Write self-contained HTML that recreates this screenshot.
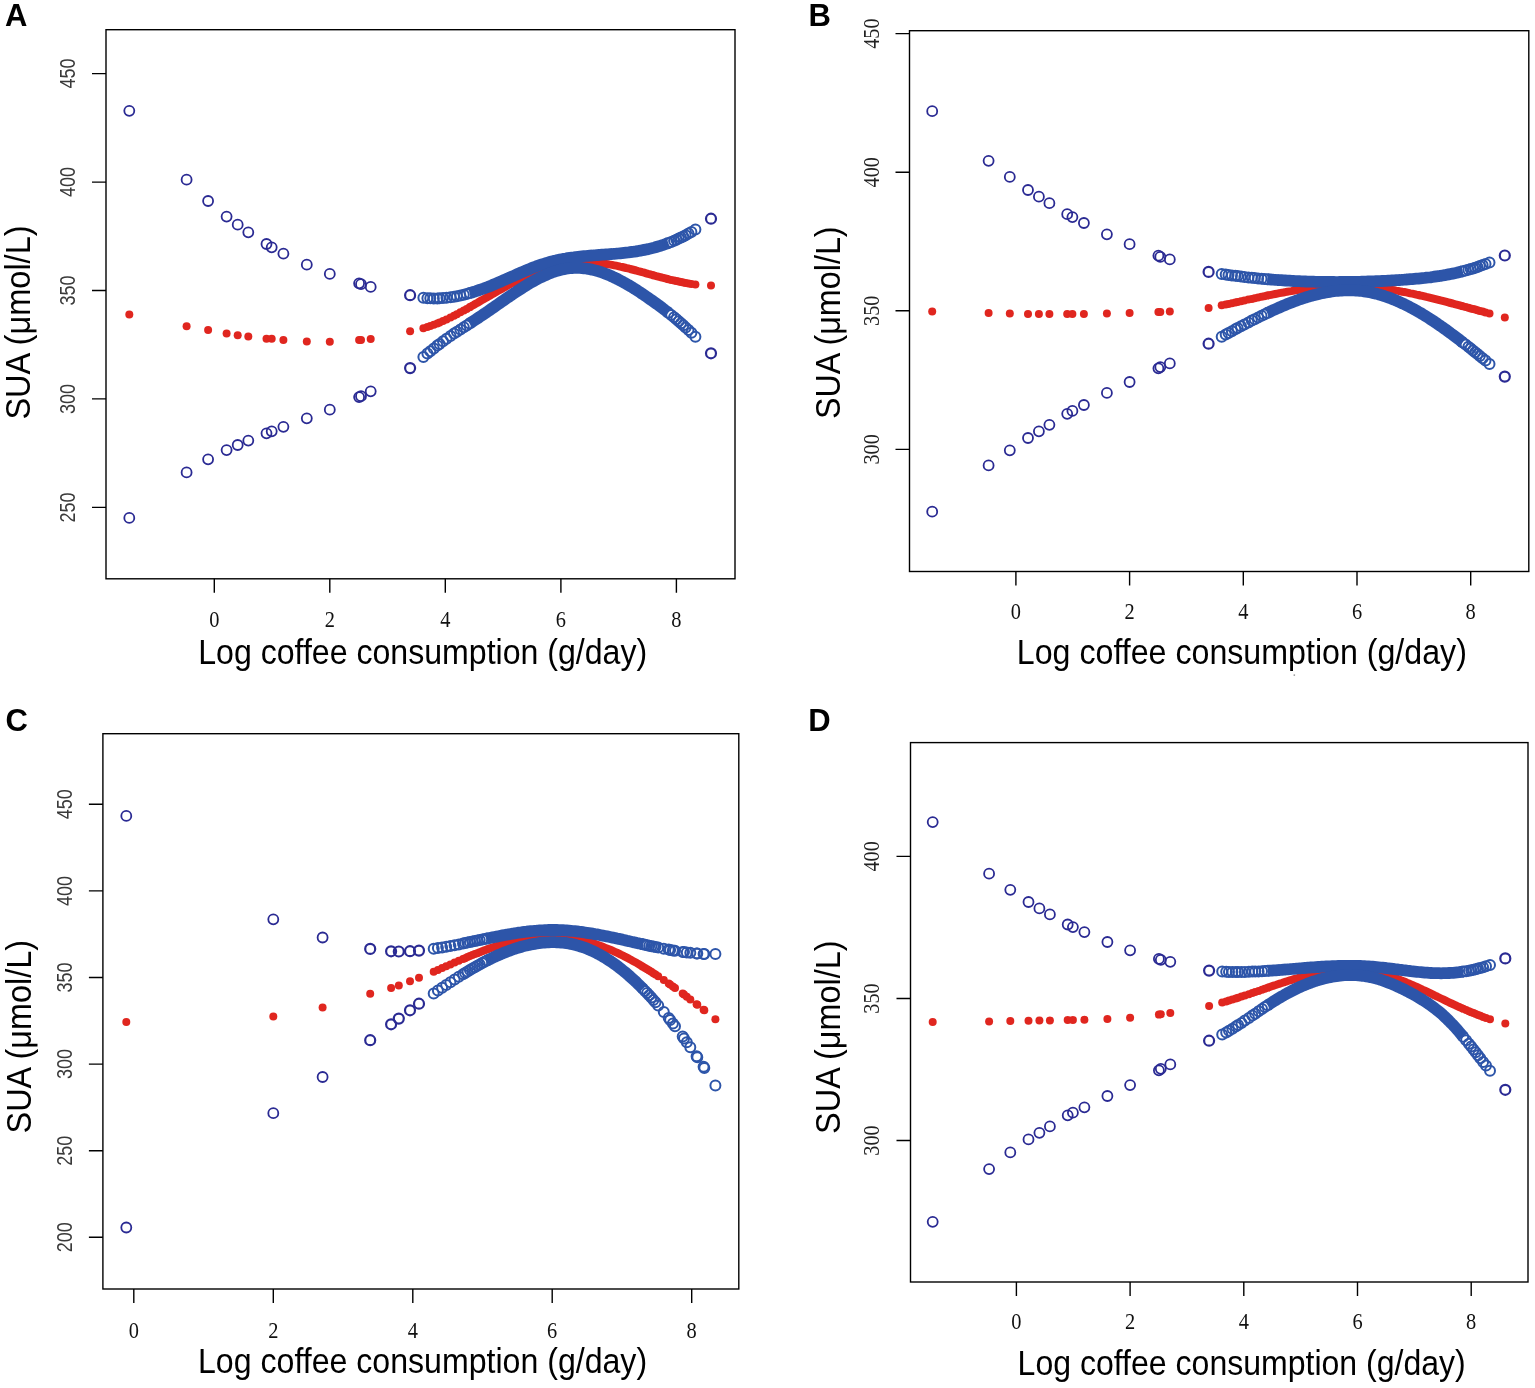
<!DOCTYPE html>
<html><head><meta charset="utf-8"><title>SUA vs log coffee consumption</title>
<style>html,body{margin:0;padding:0;background:#fff;}
svg{display:block;}
.tn{font-family:"Liberation Serif",serif;font-size:24px;fill:#111;}
.tny{font-family:"Liberation Serif",serif;font-size:23.6px;fill:#222;}
.ts{font-family:"Liberation Sans",sans-serif;font-size:22.5px;fill:#3a3a3a;}
.ti{font-family:"Liberation Sans",sans-serif;font-size:35.5px;fill:#000;}
.lt{font-family:"Liberation Sans",sans-serif;font-size:31px;font-weight:bold;fill:#000;}
</style></head>
<body><svg width="1535" height="1388" viewBox="0 0 1535 1388">
<rect width="1535" height="1388" fill="#fff"/>
<g fill="#e0261f">
<circle cx="129.3" cy="314.5" r="4.0"/>
<circle cx="186.6" cy="326.2" r="4.0"/>
<circle cx="208.1" cy="330.1" r="4.0"/>
<circle cx="226.6" cy="333.4" r="4.0"/>
<circle cx="237.7" cy="335.2" r="4.0"/>
<circle cx="248.3" cy="336.4" r="4.0"/>
<circle cx="266.5" cy="338.8" r="4.0"/>
<circle cx="271.7" cy="338.8" r="4.0"/>
<circle cx="283.4" cy="340" r="4.0"/>
<circle cx="306.8" cy="341.5" r="4.0"/>
<circle cx="329.8" cy="341.8" r="4.0"/>
<circle cx="359.1" cy="340" r="4.0"/>
<circle cx="361" cy="340" r="4.0"/>
<circle cx="370.7" cy="339.1" r="4.0"/>
<circle cx="410.1" cy="331.2" r="4.0"/>
<circle cx="711" cy="285.6" r="4.0"/>
<circle cx="423.4" cy="328.3" r="4.0"/>
<circle cx="427.4" cy="327" r="4.0"/>
<circle cx="430.3" cy="326.1" r="4.0"/>
<circle cx="433.8" cy="324.8" r="4.0"/>
<circle cx="437.3" cy="323.4" r="4.0"/>
<circle cx="439.6" cy="322.5" r="4.0"/>
<circle cx="443" cy="321" r="4.0"/>
<circle cx="446.5" cy="319.4" r="4.0"/>
<circle cx="450.5" cy="317.4" r="4.0"/>
<circle cx="454" cy="315.7" r="4.0"/>
<circle cx="456.9" cy="314.2" r="4.0"/>
<circle cx="460.4" cy="312.3" r="4.0"/>
<circle cx="463.8" cy="310.5" r="4.0"/>
<circle cx="466.7" cy="308.9" r="4.0"/>
<circle cx="469.6" cy="307.3" r="4.0"/>
<circle cx="668.3" cy="279.2" r="4.0"/>
<circle cx="671.2" cy="279.9" r="4.0"/>
<circle cx="674.1" cy="280.6" r="4.0"/>
<circle cx="676.4" cy="281.1" r="4.0"/>
<circle cx="678.7" cy="281.6" r="4.0"/>
<circle cx="681" cy="282" r="4.0"/>
<circle cx="683.3" cy="282.5" r="4.0"/>
<circle cx="685.6" cy="282.9" r="4.0"/>
<circle cx="688.5" cy="283.4" r="4.0"/>
<circle cx="691.4" cy="283.9" r="4.0"/>
<circle cx="695.4" cy="284.4" r="4.0"/>
</g>
<path d="M469.6 307.3 L471.6 306.1 L473.6 305 L475.6 303.8 L477.6 302.7 L479.6 301.5 L481.6 300.3 L483.6 299.2 L485.7 298 L487.7 296.9 L489.7 295.7 L491.7 294.5 L493.7 293.4 L495.7 292.3 L497.7 291.1 L499.7 290 L501.7 288.9 L503.7 287.8 L505.7 286.7 L507.7 285.6 L509.7 284.5 L511.7 283.5 L513.8 282.5 L515.8 281.5 L517.8 280.5 L519.8 279.5 L521.8 278.6 L523.8 277.7 L525.8 276.8 L527.8 275.9 L529.8 275.1 L531.8 274.3 L533.8 273.5 L535.8 272.7 L537.8 272 L539.8 271.3 L541.9 270.6 L543.9 269.9 L545.9 269.3 L547.9 268.7 L549.9 268.1 L551.9 267.6 L553.9 267.1 L555.9 266.6 L557.9 266.1 L559.9 265.7 L561.9 265.3 L563.9 264.9 L565.9 264.6 L567.9 264.2 L569.9 263.9 L572 263.7 L574 263.5 L576 263.3 L578 263.1 L580 262.9 L582 262.8 L584 262.8 L586 262.7 L588 262.7 L590 262.7 L592 262.8 L594 262.8 L596 263 L598 263.1 L600.1 263.3 L602.1 263.5 L604.1 263.7 L606.1 264 L608.1 264.3 L610.1 264.6 L612.1 264.9 L614.1 265.3 L616.1 265.7 L618.1 266.1 L620.1 266.6 L622.1 267 L624.1 267.5 L626.1 268 L628.2 268.4 L630.2 269 L632.2 269.5 L634.2 270 L636.2 270.5 L638.2 271.1 L640.2 271.6 L642.2 272.2 L644.2 272.7 L646.2 273.3 L648.2 273.9 L650.2 274.4 L652.2 275 L654.2 275.5 L656.3 276.1 L658.3 276.6 L660.3 277.1 L662.3 277.7 L664.3 278.2 L666.3 278.7 L668.3 279.2" fill="none" stroke="#e0261f" stroke-width="8.0" stroke-linecap="butt" stroke-linejoin="round"/>
<path d="M469.6 293.1 L471.6 292.6 L473.6 291.9 L475.6 291.3 L477.6 290.6 L479.6 289.9 L481.6 289.2 L483.6 288.5 L485.7 287.7 L487.7 287 L489.7 286.2 L491.7 285.4 L493.7 284.5 L495.7 283.7 L497.7 282.8 L499.7 282 L501.7 281.1 L503.7 280.2 L505.7 279.3 L507.7 278.4 L509.7 277.6 L511.7 276.7 L513.8 275.8 L515.8 274.9 L517.8 274 L519.8 273.1 L521.8 272.3 L523.8 271.4 L525.8 270.6 L527.8 269.7 L529.8 268.9 L531.8 268.1 L533.8 267.3 L535.8 266.6 L537.8 265.8 L539.8 265.1 L541.9 264.4 L543.9 263.8 L545.9 263.2 L547.9 262.6 L549.9 262 L551.9 261.4 L553.9 260.9 L555.9 260.5 L557.9 260 L559.9 259.6 L561.9 259.2 L563.9 258.8 L565.9 258.5 L567.9 258.1 L569.9 257.8 L572 257.5 L574 257.3 L576 257 L578 256.8 L580 256.6 L582 256.4 L584 256.2 L586 256 L588 255.8 L590 255.6 L592 255.5 L594 255.3 L596 255.2 L598 255 L600.1 254.9 L602.1 254.7 L604.1 254.6 L606.1 254.4 L608.1 254.3 L610.1 254.1 L612.1 254 L614.1 253.8 L616.1 253.7 L618.1 253.5 L620.1 253.3 L622.1 253.1 L624.1 252.9 L626.1 252.7 L628.2 252.5 L630.2 252.2 L632.2 251.9 L634.2 251.7 L636.2 251.4 L638.2 251 L640.2 250.7 L642.2 250.3 L644.2 249.9 L646.2 249.5 L648.2 249.1 L650.2 248.6 L652.2 248.1 L654.2 247.6 L656.3 247 L658.3 246.4 L660.3 245.8 L662.3 245.2 L664.3 244.5 L666.3 243.8 L668.3 243" fill="none" stroke="#2d55a9" stroke-width="11.8" stroke-linecap="butt" stroke-linejoin="round"/>
<path d="M469.6 323.5 L471.6 322.2 L473.6 320.9 L475.6 319.6 L477.6 318.3 L479.6 316.9 L481.6 315.6 L483.6 314.3 L485.7 312.9 L487.7 311.5 L489.7 310.1 L491.7 308.7 L493.7 307.3 L495.7 305.9 L497.7 304.5 L499.7 303.1 L501.7 301.7 L503.7 300.3 L505.7 298.9 L507.7 297.5 L509.7 296.2 L511.7 294.8 L513.8 293.4 L515.8 292.1 L517.8 290.8 L519.8 289.5 L521.8 288.2 L523.8 286.9 L525.8 285.7 L527.8 284.4 L529.8 283.2 L531.8 282.1 L533.8 281 L535.8 279.9 L537.8 278.8 L539.8 277.8 L541.9 276.8 L543.9 275.9 L545.9 275 L547.9 274.1 L549.9 273.3 L551.9 272.5 L553.9 271.8 L555.9 271.2 L557.9 270.6 L559.9 270 L561.9 269.5 L563.9 269.1 L565.9 268.7 L567.9 268.4 L569.9 268.2 L572 268 L574 267.9 L576 267.8 L578 267.8 L580 267.9 L582 268.1 L584 268.3 L586 268.5 L588 268.8 L590 269.2 L592 269.6 L594 270.1 L596 270.6 L598 271.2 L600.1 271.8 L602.1 272.5 L604.1 273.2 L606.1 274 L608.1 274.8 L610.1 275.6 L612.1 276.5 L614.1 277.5 L616.1 278.4 L618.1 279.4 L620.1 280.5 L622.1 281.5 L624.1 282.6 L626.1 283.8 L628.2 284.9 L630.2 286.1 L632.2 287.3 L634.2 288.6 L636.2 289.8 L638.2 291.1 L640.2 292.4 L642.2 293.8 L644.2 295.1 L646.2 296.5 L648.2 297.9 L650.2 299.3 L652.2 300.7 L654.2 302.1 L656.3 303.6 L658.3 305 L660.3 306.5 L662.3 308 L664.3 309.6 L666.3 311.1 L668.3 312.7" fill="none" stroke="#2d55a9" stroke-width="11.8" stroke-linecap="butt" stroke-linejoin="round"/>
<g fill="none" stroke="#2a2a93" stroke-width="1.8">
<circle cx="129.3" cy="110.8" r="5.0"/>
<circle cx="129.3" cy="517.9" r="5.0"/>
<circle cx="186.6" cy="179.7" r="5.0"/>
<circle cx="186.6" cy="472.4" r="5.0"/>
<circle cx="208.1" cy="201" r="5.0"/>
<circle cx="208.1" cy="459.3" r="5.0"/>
<circle cx="226.6" cy="216.6" r="5.0"/>
<circle cx="226.6" cy="450.1" r="5.0"/>
<circle cx="237.7" cy="224.7" r="5.0"/>
<circle cx="237.7" cy="445" r="5.0"/>
<circle cx="248.3" cy="232.3" r="5.0"/>
<circle cx="248.3" cy="440.6" r="5.0"/>
<circle cx="266.5" cy="244" r="5.0"/>
<circle cx="266.5" cy="433.3" r="5.0"/>
<circle cx="271.7" cy="247.3" r="5.0"/>
<circle cx="271.7" cy="431.3" r="5.0"/>
<circle cx="283.4" cy="253.6" r="5.0"/>
<circle cx="283.4" cy="426.8" r="5.0"/>
<circle cx="306.8" cy="264.7" r="5.0"/>
<circle cx="306.8" cy="418.3" r="5.0"/>
<circle cx="329.8" cy="273.9" r="5.0"/>
<circle cx="329.8" cy="409.7" r="5.0"/>
<circle cx="359.1" cy="283.3" r="5.0"/>
<circle cx="359.1" cy="397.1" r="5.0"/>
<circle cx="361" cy="284.2" r="5.0"/>
<circle cx="361" cy="396.2" r="5.0"/>
<circle cx="370.7" cy="286.9" r="5.0"/>
<circle cx="370.7" cy="391.3" r="5.0"/>
</g>
<g fill="none" stroke="#2a2a93" stroke-width="2.2">
<circle cx="410.1" cy="295.2" r="5.0"/>
<circle cx="410.1" cy="368.1" r="5.0"/>
<circle cx="711" cy="218.7" r="5.0"/>
<circle cx="711" cy="353.3" r="5.0"/>
</g>
<g fill="none" stroke="#2d55a9" stroke-width="2.0">
<circle cx="423.4" cy="297.8" r="5.0"/>
<circle cx="423.4" cy="357" r="5.0"/>
<circle cx="427.4" cy="298.2" r="5.0"/>
<circle cx="427.4" cy="353.6" r="5.0"/>
<circle cx="430.3" cy="298.3" r="5.0"/>
<circle cx="430.3" cy="351.2" r="5.0"/>
<circle cx="433.8" cy="298.4" r="5.0"/>
<circle cx="433.8" cy="348.4" r="5.0"/>
<circle cx="437.3" cy="298.4" r="5.0"/>
<circle cx="437.3" cy="345.6" r="5.0"/>
<circle cx="439.6" cy="298.3" r="5.0"/>
<circle cx="439.6" cy="343.9" r="5.0"/>
<circle cx="443" cy="298.1" r="5.0"/>
<circle cx="443" cy="341.3" r="5.0"/>
<circle cx="446.5" cy="297.8" r="5.0"/>
<circle cx="446.5" cy="338.7" r="5.0"/>
<circle cx="450.5" cy="297.3" r="5.0"/>
<circle cx="450.5" cy="336" r="5.0"/>
<circle cx="454" cy="296.7" r="5.0"/>
<circle cx="454" cy="333.6" r="5.0"/>
<circle cx="456.9" cy="296.2" r="5.0"/>
<circle cx="456.9" cy="331.7" r="5.0"/>
<circle cx="460.4" cy="295.5" r="5.0"/>
<circle cx="460.4" cy="329.5" r="5.0"/>
<circle cx="463.8" cy="294.7" r="5.0"/>
<circle cx="463.8" cy="327.3" r="5.0"/>
<circle cx="466.7" cy="293.9" r="5.0"/>
<circle cx="466.7" cy="325.4" r="5.0"/>
<circle cx="469.6" cy="293.1" r="5.0"/>
<circle cx="469.6" cy="323.5" r="5.0"/>
<circle cx="668.3" cy="243" r="5.0"/>
<circle cx="668.3" cy="312.7" r="5.0"/>
<circle cx="671.2" cy="241.9" r="5.0"/>
<circle cx="671.2" cy="315" r="5.0"/>
<circle cx="674.1" cy="240.7" r="5.0"/>
<circle cx="674.1" cy="317.3" r="5.0"/>
<circle cx="676.4" cy="239.7" r="5.0"/>
<circle cx="676.4" cy="319.3" r="5.0"/>
<circle cx="678.7" cy="238.6" r="5.0"/>
<circle cx="678.7" cy="321.2" r="5.0"/>
<circle cx="681" cy="237.5" r="5.0"/>
<circle cx="681" cy="323.2" r="5.0"/>
<circle cx="683.3" cy="236.4" r="5.0"/>
<circle cx="683.3" cy="325.3" r="5.0"/>
<circle cx="685.6" cy="235.2" r="5.0"/>
<circle cx="685.6" cy="327.4" r="5.0"/>
<circle cx="688.5" cy="233.6" r="5.0"/>
<circle cx="688.5" cy="330" r="5.0"/>
<circle cx="691.4" cy="232" r="5.0"/>
<circle cx="691.4" cy="332.7" r="5.0"/>
<circle cx="695.4" cy="229.6" r="5.0"/>
<circle cx="695.4" cy="336.7" r="5.0"/>
</g>
<rect x="106" y="29.7" width="629" height="549.1" fill="none" stroke="#000" stroke-width="1.4"/>
<path d="M92 73.6H106 M92 182.1H106 M92 290.5H106 M92 398.9H106 M92 507.4H106 M214.3 578.8V592.8 M329.8 578.8V592.8 M445.3 578.8V592.8 M560.9 578.8V592.8 M676.4 578.8V592.8" stroke="#000" stroke-width="1.4" fill="none"/>
<text class="ts" transform="translate(75.3 73.6) rotate(-90) scale(0.8 1)" text-anchor="middle">450</text>
<text class="ts" transform="translate(75.3 182.1) rotate(-90) scale(0.8 1)" text-anchor="middle">400</text>
<text class="ts" transform="translate(75.3 290.5) rotate(-90) scale(0.8 1)" text-anchor="middle">350</text>
<text class="ts" transform="translate(75.3 398.9) rotate(-90) scale(0.8 1)" text-anchor="middle">300</text>
<text class="ts" transform="translate(75.3 507.4) rotate(-90) scale(0.8 1)" text-anchor="middle">250</text>
<text class="tn" transform="translate(214.3 627) scale(0.85 1)" text-anchor="middle">0</text>
<text class="tn" transform="translate(329.8 627) scale(0.85 1)" text-anchor="middle">2</text>
<text class="tn" transform="translate(445.3 627) scale(0.85 1)" text-anchor="middle">4</text>
<text class="tn" transform="translate(560.9 627) scale(0.85 1)" text-anchor="middle">6</text>
<text class="tn" transform="translate(676.4 627) scale(0.85 1)" text-anchor="middle">8</text>
<text class="ti" x="198.2" y="663.9" textLength="449" lengthAdjust="spacingAndGlyphs">Log coffee consumption (g/day)</text>
<text class="ti" transform="translate(30.1 419.6) rotate(-90)" textLength="194.2" lengthAdjust="spacingAndGlyphs">SUA (μmol/L)</text>
<text class="lt" x="5" y="25.8">A</text>
<g fill="#e0261f">
<circle cx="932.2" cy="311.4" r="4.0"/>
<circle cx="988.6" cy="313.1" r="4.0"/>
<circle cx="1009.8" cy="313.6" r="4.0"/>
<circle cx="1028" cy="314" r="4.0"/>
<circle cx="1038.9" cy="314" r="4.0"/>
<circle cx="1049.4" cy="314" r="4.0"/>
<circle cx="1067.2" cy="314" r="4.0"/>
<circle cx="1072.4" cy="314" r="4.0"/>
<circle cx="1083.9" cy="314" r="4.0"/>
<circle cx="1106.9" cy="313.6" r="4.0"/>
<circle cx="1129.6" cy="313.1" r="4.0"/>
<circle cx="1158.4" cy="312" r="4.0"/>
<circle cx="1160.3" cy="312" r="4.0"/>
<circle cx="1169.8" cy="311.4" r="4.0"/>
<circle cx="1208.6" cy="308" r="4.0"/>
<circle cx="1504.8" cy="317.4" r="4.0"/>
<circle cx="1221.7" cy="305.3" r="4.0"/>
<circle cx="1225.7" cy="304.5" r="4.0"/>
<circle cx="1228.5" cy="303.9" r="4.0"/>
<circle cx="1231.9" cy="303.2" r="4.0"/>
<circle cx="1235.3" cy="302.4" r="4.0"/>
<circle cx="1237.6" cy="301.9" r="4.0"/>
<circle cx="1241" cy="301.2" r="4.0"/>
<circle cx="1244.4" cy="300.5" r="4.0"/>
<circle cx="1248.4" cy="299.6" r="4.0"/>
<circle cx="1251.8" cy="298.9" r="4.0"/>
<circle cx="1254.7" cy="298.2" r="4.0"/>
<circle cx="1258.1" cy="297.5" r="4.0"/>
<circle cx="1261.5" cy="296.8" r="4.0"/>
<circle cx="1264.3" cy="296.2" r="4.0"/>
<circle cx="1267.2" cy="295.6" r="4.0"/>
<circle cx="1462.7" cy="306.2" r="4.0"/>
<circle cx="1465.6" cy="307" r="4.0"/>
<circle cx="1468.4" cy="307.8" r="4.0"/>
<circle cx="1470.7" cy="308.4" r="4.0"/>
<circle cx="1473" cy="309" r="4.0"/>
<circle cx="1475.2" cy="309.6" r="4.0"/>
<circle cx="1477.5" cy="310.3" r="4.0"/>
<circle cx="1479.8" cy="310.9" r="4.0"/>
<circle cx="1482.6" cy="311.6" r="4.0"/>
<circle cx="1485.5" cy="312.4" r="4.0"/>
<circle cx="1489.5" cy="313.5" r="4.0"/>
</g>
<path d="M1267.2 295.6 L1269.2 295.2 L1271.2 294.8 L1273.2 294.4 L1275.2 294 L1277.3 293.6 L1279.3 293.2 L1281.3 292.8 L1283.3 292.5 L1285.3 292.1 L1287.3 291.7 L1289.4 291.4 L1291.4 291.1 L1293.4 290.7 L1295.4 290.4 L1297.4 290.1 L1299.4 289.8 L1301.5 289.5 L1303.5 289.2 L1305.5 288.9 L1307.5 288.6 L1309.5 288.4 L1311.5 288.1 L1313.5 287.9 L1315.6 287.6 L1317.6 287.4 L1319.6 287.2 L1321.6 287 L1323.6 286.9 L1325.6 286.7 L1327.7 286.5 L1329.7 286.4 L1331.7 286.3 L1333.7 286.2 L1335.7 286.1 L1337.7 286 L1339.8 286 L1341.8 285.9 L1343.8 285.9 L1345.8 285.9 L1347.8 285.9 L1349.8 285.9 L1351.9 285.9 L1353.9 286 L1355.9 286.1 L1357.9 286.1 L1359.9 286.2 L1361.9 286.4 L1364 286.5 L1366 286.7 L1368 286.8 L1370 287 L1372 287.2 L1374 287.4 L1376 287.6 L1378.1 287.9 L1380.1 288.1 L1382.1 288.4 L1384.1 288.7 L1386.1 288.9 L1388.1 289.2 L1390.2 289.6 L1392.2 289.9 L1394.2 290.2 L1396.2 290.6 L1398.2 290.9 L1400.2 291.3 L1402.3 291.7 L1404.3 292 L1406.3 292.4 L1408.3 292.8 L1410.3 293.3 L1412.3 293.7 L1414.4 294.1 L1416.4 294.6 L1418.4 295 L1420.4 295.5 L1422.4 295.9 L1424.4 296.4 L1426.5 296.9 L1428.5 297.3 L1430.5 297.8 L1432.5 298.3 L1434.5 298.8 L1436.5 299.3 L1438.5 299.8 L1440.6 300.4 L1442.6 300.9 L1444.6 301.4 L1446.6 301.9 L1448.6 302.5 L1450.6 303 L1452.7 303.5 L1454.7 304.1 L1456.7 304.6 L1458.7 305.1 L1460.7 305.7 L1462.7 306.2" fill="none" stroke="#e0261f" stroke-width="8.0" stroke-linecap="butt" stroke-linejoin="round"/>
<path d="M1267.2 279.2 L1269.2 279.4 L1271.2 279.5 L1273.2 279.7 L1275.2 279.8 L1277.3 280 L1279.3 280.1 L1281.3 280.2 L1283.3 280.4 L1285.3 280.5 L1287.3 280.6 L1289.4 280.7 L1291.4 280.9 L1293.4 281 L1295.4 281.1 L1297.4 281.2 L1299.4 281.2 L1301.5 281.3 L1303.5 281.4 L1305.5 281.5 L1307.5 281.6 L1309.5 281.6 L1311.5 281.7 L1313.5 281.7 L1315.6 281.8 L1317.6 281.8 L1319.6 281.9 L1321.6 281.9 L1323.6 282 L1325.6 282 L1327.7 282 L1329.7 282 L1331.7 282 L1333.7 282 L1335.7 282.1 L1337.7 282.1 L1339.8 282 L1341.8 282 L1343.8 282 L1345.8 282 L1347.8 282 L1349.8 282 L1351.9 281.9 L1353.9 281.9 L1355.9 281.9 L1357.9 281.8 L1359.9 281.8 L1361.9 281.7 L1364 281.7 L1366 281.6 L1368 281.5 L1370 281.5 L1372 281.4 L1374 281.3 L1376 281.2 L1378.1 281.1 L1380.1 281.1 L1382.1 281 L1384.1 280.9 L1386.1 280.8 L1388.1 280.7 L1390.2 280.6 L1392.2 280.4 L1394.2 280.3 L1396.2 280.2 L1398.2 280.1 L1400.2 280 L1402.3 279.8 L1404.3 279.7 L1406.3 279.5 L1408.3 279.4 L1410.3 279.2 L1412.3 279.1 L1414.4 278.9 L1416.4 278.7 L1418.4 278.6 L1420.4 278.4 L1422.4 278.2 L1424.4 278 L1426.5 277.7 L1428.5 277.5 L1430.5 277.3 L1432.5 277 L1434.5 276.7 L1436.5 276.4 L1438.5 276.2 L1440.6 275.8 L1442.6 275.5 L1444.6 275.2 L1446.6 274.8 L1448.6 274.4 L1450.6 274 L1452.7 273.6 L1454.7 273.2 L1456.7 272.8 L1458.7 272.3 L1460.7 271.8 L1462.7 271.3" fill="none" stroke="#2d55a9" stroke-width="11.8" stroke-linecap="butt" stroke-linejoin="round"/>
<path d="M1267.2 313 L1269.2 312.1 L1271.2 311.1 L1273.2 310.2 L1275.2 309.3 L1277.3 308.4 L1279.3 307.5 L1281.3 306.6 L1283.3 305.7 L1285.3 304.9 L1287.3 304.1 L1289.4 303.3 L1291.4 302.5 L1293.4 301.7 L1295.4 301 L1297.4 300.2 L1299.4 299.5 L1301.5 298.8 L1303.5 298.2 L1305.5 297.5 L1307.5 296.9 L1309.5 296.3 L1311.5 295.8 L1313.5 295.2 L1315.6 294.7 L1317.6 294.2 L1319.6 293.7 L1321.6 293.3 L1323.6 292.9 L1325.6 292.5 L1327.7 292.1 L1329.7 291.8 L1331.7 291.5 L1333.7 291.2 L1335.7 291 L1337.7 290.8 L1339.8 290.6 L1341.8 290.5 L1343.8 290.4 L1345.8 290.3 L1347.8 290.3 L1349.8 290.3 L1351.9 290.3 L1353.9 290.4 L1355.9 290.5 L1357.9 290.6 L1359.9 290.8 L1361.9 291 L1364 291.3 L1366 291.6 L1368 291.9 L1370 292.3 L1372 292.7 L1374 293.2 L1376 293.6 L1378.1 294.2 L1380.1 294.7 L1382.1 295.4 L1384.1 296 L1386.1 296.7 L1388.1 297.4 L1390.2 298.1 L1392.2 298.9 L1394.2 299.7 L1396.2 300.6 L1398.2 301.4 L1400.2 302.3 L1402.3 303.3 L1404.3 304.2 L1406.3 305.2 L1408.3 306.2 L1410.3 307.3 L1412.3 308.4 L1414.4 309.5 L1416.4 310.6 L1418.4 311.8 L1420.4 312.9 L1422.4 314.1 L1424.4 315.4 L1426.5 316.6 L1428.5 317.9 L1430.5 319.2 L1432.5 320.5 L1434.5 321.8 L1436.5 323.2 L1438.5 324.6 L1440.6 326 L1442.6 327.4 L1444.6 328.8 L1446.6 330.2 L1448.6 331.7 L1450.6 333.2 L1452.7 334.7 L1454.7 336.2 L1456.7 337.7 L1458.7 339.2 L1460.7 340.8 L1462.7 342.4" fill="none" stroke="#2d55a9" stroke-width="11.8" stroke-linecap="butt" stroke-linejoin="round"/>
<g fill="none" stroke="#2a2a93" stroke-width="1.8">
<circle cx="932.2" cy="111.2" r="5.0"/>
<circle cx="932.2" cy="511.7" r="5.0"/>
<circle cx="988.6" cy="160.8" r="5.0"/>
<circle cx="988.6" cy="465.4" r="5.0"/>
<circle cx="1009.8" cy="176.9" r="5.0"/>
<circle cx="1009.8" cy="450.3" r="5.0"/>
<circle cx="1028" cy="190" r="5.0"/>
<circle cx="1028" cy="438" r="5.0"/>
<circle cx="1038.9" cy="196.7" r="5.0"/>
<circle cx="1038.9" cy="431.3" r="5.0"/>
<circle cx="1049.4" cy="203.2" r="5.0"/>
<circle cx="1049.4" cy="424.8" r="5.0"/>
<circle cx="1067.2" cy="214.2" r="5.0"/>
<circle cx="1067.2" cy="413.8" r="5.0"/>
<circle cx="1072.4" cy="217.1" r="5.0"/>
<circle cx="1072.4" cy="410.9" r="5.0"/>
<circle cx="1083.9" cy="223" r="5.0"/>
<circle cx="1083.9" cy="405" r="5.0"/>
<circle cx="1106.9" cy="234.3" r="5.0"/>
<circle cx="1106.9" cy="392.9" r="5.0"/>
<circle cx="1129.6" cy="244.2" r="5.0"/>
<circle cx="1129.6" cy="382" r="5.0"/>
<circle cx="1158.4" cy="255.7" r="5.0"/>
<circle cx="1158.4" cy="368.3" r="5.0"/>
<circle cx="1160.3" cy="256.9" r="5.0"/>
<circle cx="1160.3" cy="367.1" r="5.0"/>
<circle cx="1169.8" cy="259.4" r="5.0"/>
<circle cx="1169.8" cy="363.4" r="5.0"/>
</g>
<g fill="none" stroke="#2a2a93" stroke-width="2.2">
<circle cx="1208.6" cy="271.9" r="5.0"/>
<circle cx="1208.6" cy="343.7" r="5.0"/>
<circle cx="1504.8" cy="255.5" r="5.0"/>
<circle cx="1504.8" cy="376.6" r="5.0"/>
</g>
<g fill="none" stroke="#2d55a9" stroke-width="2.0">
<circle cx="1221.7" cy="273.9" r="5.0"/>
<circle cx="1221.7" cy="336.7" r="5.0"/>
<circle cx="1225.7" cy="274.5" r="5.0"/>
<circle cx="1225.7" cy="334.5" r="5.0"/>
<circle cx="1228.5" cy="274.9" r="5.0"/>
<circle cx="1228.5" cy="333" r="5.0"/>
<circle cx="1231.9" cy="275.4" r="5.0"/>
<circle cx="1231.9" cy="331.2" r="5.0"/>
<circle cx="1235.3" cy="275.8" r="5.0"/>
<circle cx="1235.3" cy="329.3" r="5.0"/>
<circle cx="1237.6" cy="276.1" r="5.0"/>
<circle cx="1237.6" cy="328.1" r="5.0"/>
<circle cx="1241" cy="276.5" r="5.0"/>
<circle cx="1241" cy="326.3" r="5.0"/>
<circle cx="1244.4" cy="276.9" r="5.0"/>
<circle cx="1244.4" cy="324.5" r="5.0"/>
<circle cx="1248.4" cy="277.4" r="5.0"/>
<circle cx="1248.4" cy="322.4" r="5.0"/>
<circle cx="1251.8" cy="277.7" r="5.0"/>
<circle cx="1251.8" cy="320.6" r="5.0"/>
<circle cx="1254.7" cy="278" r="5.0"/>
<circle cx="1254.7" cy="319.2" r="5.0"/>
<circle cx="1258.1" cy="278.4" r="5.0"/>
<circle cx="1258.1" cy="317.5" r="5.0"/>
<circle cx="1261.5" cy="278.7" r="5.0"/>
<circle cx="1261.5" cy="315.8" r="5.0"/>
<circle cx="1264.3" cy="278.9" r="5.0"/>
<circle cx="1264.3" cy="314.4" r="5.0"/>
<circle cx="1267.2" cy="279.2" r="5.0"/>
<circle cx="1267.2" cy="313" r="5.0"/>
<circle cx="1462.7" cy="271.3" r="5.0"/>
<circle cx="1462.7" cy="342.4" r="5.0"/>
<circle cx="1465.6" cy="270.5" r="5.0"/>
<circle cx="1465.6" cy="344.6" r="5.0"/>
<circle cx="1468.4" cy="269.8" r="5.0"/>
<circle cx="1468.4" cy="346.8" r="5.0"/>
<circle cx="1470.7" cy="269.1" r="5.0"/>
<circle cx="1470.7" cy="348.6" r="5.0"/>
<circle cx="1473" cy="268.4" r="5.0"/>
<circle cx="1473" cy="350.4" r="5.0"/>
<circle cx="1475.2" cy="267.7" r="5.0"/>
<circle cx="1475.2" cy="352.3" r="5.0"/>
<circle cx="1477.5" cy="266.9" r="5.0"/>
<circle cx="1477.5" cy="354.1" r="5.0"/>
<circle cx="1479.8" cy="266.1" r="5.0"/>
<circle cx="1479.8" cy="356" r="5.0"/>
<circle cx="1482.6" cy="265.1" r="5.0"/>
<circle cx="1482.6" cy="358.3" r="5.0"/>
<circle cx="1485.5" cy="264.1" r="5.0"/>
<circle cx="1485.5" cy="360.6" r="5.0"/>
<circle cx="1489.5" cy="262.5" r="5.0"/>
<circle cx="1489.5" cy="363.9" r="5.0"/>
</g>
<rect x="909.5" y="30.7" width="619.3" height="540.8" fill="none" stroke="#000" stroke-width="1.4"/>
<path d="M895.5 33.6H909.5 M895.5 172.2H909.5 M895.5 310.8H909.5 M895.5 449.4H909.5 M1015.9 571.5V585.5 M1129.6 571.5V585.5 M1243.3 571.5V585.5 M1357 571.5V585.5 M1470.7 571.5V585.5" stroke="#000" stroke-width="1.4" fill="none"/>
<text class="tny" transform="translate(879.2 33.6) rotate(-90) scale(0.86 1)" text-anchor="middle">450</text>
<text class="tny" transform="translate(879.2 172.2) rotate(-90) scale(0.86 1)" text-anchor="middle">400</text>
<text class="tny" transform="translate(879.2 310.8) rotate(-90) scale(0.86 1)" text-anchor="middle">350</text>
<text class="tny" transform="translate(879.2 449.4) rotate(-90) scale(0.86 1)" text-anchor="middle">300</text>
<text class="tn" transform="translate(1015.9 619.2) scale(0.85 1)" text-anchor="middle">0</text>
<text class="tn" transform="translate(1129.6 619.2) scale(0.85 1)" text-anchor="middle">2</text>
<text class="tn" transform="translate(1243.3 619.2) scale(0.85 1)" text-anchor="middle">4</text>
<text class="tn" transform="translate(1357 619.2) scale(0.85 1)" text-anchor="middle">6</text>
<text class="tn" transform="translate(1470.7 619.2) scale(0.85 1)" text-anchor="middle">8</text>
<text class="ti" x="1016.8" y="663.9" textLength="450.1" lengthAdjust="spacingAndGlyphs">Log coffee consumption (g/day)</text>
<text class="ti" transform="translate(840.4 419.1) rotate(-90)" textLength="192.7" lengthAdjust="spacingAndGlyphs">SUA (μmol/L)</text>
<text class="lt" x="808.6" y="25.9">B</text>
<g fill="#e0261f">
<circle cx="126.3" cy="1022" r="4.0"/>
<circle cx="273.3" cy="1016.4" r="4.0"/>
<circle cx="322.6" cy="1007.4" r="4.0"/>
<circle cx="370.2" cy="993.8" r="4.0"/>
<circle cx="391.1" cy="987.9" r="4.0"/>
<circle cx="398.8" cy="985.4" r="4.0"/>
<circle cx="410" cy="981.3" r="4.0"/>
<circle cx="419" cy="977.7" r="4.0"/>
<circle cx="433.7" cy="971.7" r="4.0"/>
<circle cx="437.9" cy="969.9" r="4.0"/>
<circle cx="442.1" cy="968.1" r="4.0"/>
<circle cx="446.2" cy="966.2" r="4.0"/>
<circle cx="450.4" cy="964.4" r="4.0"/>
<circle cx="454.6" cy="962.6" r="4.0"/>
<circle cx="458.8" cy="960.8" r="4.0"/>
<circle cx="463" cy="959" r="4.0"/>
<circle cx="465.1" cy="958.2" r="4.0"/>
<circle cx="467.5" cy="957.1" r="4.0"/>
<circle cx="469.9" cy="956.1" r="4.0"/>
<circle cx="472.4" cy="955.1" r="4.0"/>
<circle cx="474.8" cy="954.1" r="4.0"/>
<circle cx="477.3" cy="953.2" r="4.0"/>
<circle cx="479.7" cy="952.2" r="4.0"/>
<circle cx="482.2" cy="951.2" r="4.0"/>
<circle cx="484.6" cy="950.3" r="4.0"/>
<circle cx="487" cy="949.4" r="4.0"/>
<circle cx="642.9" cy="966.7" r="4.0"/>
<circle cx="645" cy="967.9" r="4.0"/>
<circle cx="647.1" cy="969.2" r="4.0"/>
<circle cx="649.2" cy="970.5" r="4.0"/>
<circle cx="651.3" cy="971.8" r="4.0"/>
<circle cx="653.4" cy="973.2" r="4.0"/>
<circle cx="655.5" cy="974.5" r="4.0"/>
<circle cx="658.2" cy="976.3" r="4.0"/>
<circle cx="663.8" cy="980.1" r="4.0"/>
<circle cx="668.7" cy="983.5" r="4.0"/>
<circle cx="670.1" cy="984.5" r="4.0"/>
<circle cx="672.9" cy="986.4" r="4.0"/>
<circle cx="675" cy="987.9" r="4.0"/>
<circle cx="682.7" cy="993.6" r="4.0"/>
<circle cx="684" cy="994.6" r="4.0"/>
<circle cx="686.8" cy="996.7" r="4.0"/>
<circle cx="690.3" cy="999.4" r="4.0"/>
<circle cx="696.6" cy="1004.2" r="4.0"/>
<circle cx="697.3" cy="1004.8" r="4.0"/>
<circle cx="703.6" cy="1009.8" r="4.0"/>
<circle cx="704.3" cy="1010.3" r="4.0"/>
<circle cx="715.4" cy="1019.3" r="4.0"/>
</g>
<path d="M486.7 949.5 L488.7 948.8 L490.7 948.1 L492.7 947.4 L494.7 946.7 L496.7 946 L498.7 945.3 L500.7 944.7 L502.7 944.1 L504.7 943.5 L506.7 942.9 L508.7 942.3 L510.7 941.8 L512.7 941.2 L514.7 940.7 L516.7 940.3 L518.7 939.8 L520.7 939.4 L522.7 939 L524.7 938.6 L526.7 938.2 L528.7 937.9 L530.7 937.6 L532.7 937.3 L534.8 937 L536.8 936.8 L538.8 936.6 L540.8 936.4 L542.8 936.3 L544.8 936.2 L546.8 936.1 L548.8 936.1 L550.8 936.1 L552.8 936.1 L554.8 936.2 L556.8 936.3 L558.8 936.4 L560.8 936.6 L562.8 936.8 L564.8 937 L566.8 937.3 L568.8 937.5 L570.8 937.9 L572.8 938.2 L574.8 938.6 L576.8 939 L578.8 939.4 L580.8 939.9 L582.8 940.4 L584.8 940.9 L586.8 941.4 L588.8 942 L590.8 942.6 L592.8 943.2 L594.8 943.9 L596.8 944.6 L598.8 945.3 L600.8 946 L602.8 946.8 L604.8 947.6 L606.9 948.4 L608.9 949.2 L610.9 950 L612.9 950.9 L614.9 951.8 L616.9 952.7 L618.9 953.7 L620.9 954.7 L622.9 955.6 L624.9 956.7 L626.9 957.7 L628.9 958.7 L630.9 959.8 L632.9 960.9 L634.9 962 L636.9 963.1 L638.9 964.3 L640.9 965.5 L642.9 966.7" fill="none" stroke="#e0261f" stroke-width="8.0" stroke-linecap="butt" stroke-linejoin="round"/>
<path d="M486.7 938.6 L488.7 938.2 L490.7 937.8 L492.7 937.4 L494.7 937 L496.7 936.6 L498.7 936.2 L500.7 935.8 L502.7 935.4 L504.7 935 L506.7 934.7 L508.7 934.3 L510.7 934 L512.7 933.7 L514.7 933.3 L516.7 933 L518.7 932.7 L520.7 932.5 L522.7 932.2 L524.7 931.9 L526.7 931.7 L528.7 931.4 L530.7 931.2 L532.7 931 L534.8 930.8 L536.8 930.7 L538.8 930.5 L540.8 930.4 L542.8 930.3 L544.8 930.2 L546.8 930.1 L548.8 930 L550.8 930 L552.8 930 L554.8 930 L556.8 930 L558.8 930.1 L560.8 930.2 L562.8 930.2 L564.8 930.4 L566.8 930.5 L568.8 930.6 L570.8 930.8 L572.8 931 L574.8 931.2 L576.8 931.4 L578.8 931.7 L580.8 931.9 L582.8 932.2 L584.8 932.5 L586.8 932.8 L588.8 933.1 L590.8 933.4 L592.8 933.7 L594.8 934.1 L596.8 934.4 L598.8 934.8 L600.8 935.2 L602.8 935.6 L604.8 936 L606.9 936.4 L608.9 936.8 L610.9 937.2 L612.9 937.6 L614.9 938 L616.9 938.5 L618.9 938.9 L620.9 939.3 L622.9 939.8 L624.9 940.2 L626.9 940.7 L628.9 941.1 L630.9 941.6 L632.9 942.1 L634.9 942.5 L636.9 943 L638.9 943.4 L640.9 943.9 L642.9 944.3" fill="none" stroke="#2d55a9" stroke-width="11.8" stroke-linecap="butt" stroke-linejoin="round"/>
<path d="M486.7 960.8 L488.7 959.7 L490.7 958.8 L492.7 957.8 L494.7 956.8 L496.7 955.9 L498.7 955 L500.7 954.2 L502.7 953.3 L504.7 952.5 L506.7 951.7 L508.7 951 L510.7 950.2 L512.7 949.5 L514.7 948.8 L516.7 948.2 L518.7 947.6 L520.7 947 L522.7 946.4 L524.7 945.9 L526.7 945.4 L528.7 945 L530.7 944.5 L532.7 944.1 L534.8 943.8 L536.8 943.5 L538.8 943.2 L540.8 942.9 L542.8 942.7 L544.8 942.5 L546.8 942.4 L548.8 942.3 L550.8 942.2 L552.8 942.2 L554.8 942.2 L556.8 942.3 L558.8 942.4 L560.8 942.5 L562.8 942.7 L564.8 942.9 L566.8 943.2 L568.8 943.5 L570.8 943.9 L572.8 944.3 L574.8 944.8 L576.8 945.3 L578.8 945.9 L580.8 946.5 L582.8 947.1 L584.8 947.8 L586.8 948.6 L588.8 949.4 L590.8 950.3 L592.8 951.2 L594.8 952.1 L596.8 953.2 L598.8 954.2 L600.8 955.3 L602.8 956.5 L604.8 957.6 L606.9 958.9 L608.9 960.2 L610.9 961.5 L612.9 962.9 L614.9 964.3 L616.9 965.8 L618.9 967.3 L620.9 968.9 L622.9 970.5 L624.9 972.1 L626.9 973.8 L628.9 975.5 L630.9 977.3 L632.9 979.1 L634.9 980.9 L636.9 982.8 L638.9 984.8 L640.9 986.7 L642.9 988.8" fill="none" stroke="#2d55a9" stroke-width="11.8" stroke-linecap="butt" stroke-linejoin="round"/>
<g fill="none" stroke="#2a2a93" stroke-width="1.8">
<circle cx="126.3" cy="815.9" r="5.0"/>
<circle cx="126.3" cy="1227.5" r="5.0"/>
<circle cx="273.3" cy="919.3" r="5.0"/>
<circle cx="273.3" cy="1113.2" r="5.0"/>
<circle cx="322.6" cy="937.5" r="5.0"/>
<circle cx="322.6" cy="1077" r="5.0"/>
</g>
<g fill="none" stroke="#2a2a93" stroke-width="2.2">
<circle cx="370.2" cy="948.9" r="5.0"/>
<circle cx="370.2" cy="1040.2" r="5.0"/>
<circle cx="391.1" cy="951.3" r="5.0"/>
<circle cx="391.1" cy="1024.3" r="5.0"/>
<circle cx="398.8" cy="951.5" r="5.0"/>
<circle cx="398.8" cy="1018.6" r="5.0"/>
<circle cx="410" cy="951.2" r="5.0"/>
<circle cx="410" cy="1010.3" r="5.0"/>
<circle cx="419" cy="950.6" r="5.0"/>
<circle cx="419" cy="1003.7" r="5.0"/>
</g>
<g fill="none" stroke="#2d55a9" stroke-width="2.0">
<circle cx="433.7" cy="948.8" r="5.0"/>
<circle cx="433.7" cy="993.4" r="5.0"/>
<circle cx="437.9" cy="948.1" r="5.0"/>
<circle cx="437.9" cy="990.6" r="5.0"/>
<circle cx="442.1" cy="947.5" r="5.0"/>
<circle cx="442.1" cy="987.7" r="5.0"/>
<circle cx="446.2" cy="946.7" r="5.0"/>
<circle cx="446.2" cy="984.9" r="5.0"/>
<circle cx="450.4" cy="946" r="5.0"/>
<circle cx="450.4" cy="982.2" r="5.0"/>
<circle cx="454.6" cy="945.2" r="5.0"/>
<circle cx="454.6" cy="979.5" r="5.0"/>
<circle cx="458.8" cy="944.4" r="5.0"/>
<circle cx="458.8" cy="976.8" r="5.0"/>
<circle cx="463" cy="943.5" r="5.0"/>
<circle cx="463" cy="974.2" r="5.0"/>
<circle cx="465.1" cy="943.1" r="5.0"/>
<circle cx="465.1" cy="972.9" r="5.0"/>
<circle cx="467.5" cy="942.6" r="5.0"/>
<circle cx="467.5" cy="971.5" r="5.0"/>
<circle cx="469.9" cy="942.1" r="5.0"/>
<circle cx="469.9" cy="970" r="5.0"/>
<circle cx="472.4" cy="941.6" r="5.0"/>
<circle cx="472.4" cy="968.6" r="5.0"/>
<circle cx="474.8" cy="941.1" r="5.0"/>
<circle cx="474.8" cy="967.2" r="5.0"/>
<circle cx="477.3" cy="940.5" r="5.0"/>
<circle cx="477.3" cy="965.8" r="5.0"/>
<circle cx="479.7" cy="940" r="5.0"/>
<circle cx="479.7" cy="964.5" r="5.0"/>
<circle cx="482.2" cy="939.5" r="5.0"/>
<circle cx="482.2" cy="963.1" r="5.0"/>
<circle cx="484.6" cy="939" r="5.0"/>
<circle cx="484.6" cy="961.8" r="5.0"/>
<circle cx="487" cy="938.5" r="5.0"/>
<circle cx="487" cy="960.6" r="5.0"/>
<circle cx="642.9" cy="944.3" r="5.0"/>
<circle cx="642.9" cy="988.8" r="5.0"/>
<circle cx="645" cy="944.8" r="5.0"/>
<circle cx="645" cy="990.9" r="5.0"/>
<circle cx="647.1" cy="945.2" r="5.0"/>
<circle cx="647.1" cy="993.1" r="5.0"/>
<circle cx="649.2" cy="945.7" r="5.0"/>
<circle cx="649.2" cy="995.3" r="5.0"/>
<circle cx="651.3" cy="946.2" r="5.0"/>
<circle cx="651.3" cy="997.6" r="5.0"/>
<circle cx="653.4" cy="946.6" r="5.0"/>
<circle cx="653.4" cy="999.9" r="5.0"/>
<circle cx="655.5" cy="947" r="5.0"/>
<circle cx="655.5" cy="1002.3" r="5.0"/>
<circle cx="658.2" cy="947.6" r="5.0"/>
<circle cx="658.2" cy="1005.5" r="5.0"/>
<circle cx="663.8" cy="948.7" r="5.0"/>
<circle cx="663.8" cy="1012.1" r="5.0"/>
<circle cx="668.7" cy="949.6" r="5.0"/>
<circle cx="668.7" cy="1018.1" r="5.0"/>
<circle cx="670.1" cy="949.9" r="5.0"/>
<circle cx="670.1" cy="1019.9" r="5.0"/>
<circle cx="672.9" cy="950.4" r="5.0"/>
<circle cx="672.9" cy="1023.4" r="5.0"/>
<circle cx="675" cy="950.7" r="5.0"/>
<circle cx="675" cy="1026.2" r="5.0"/>
<circle cx="682.7" cy="951.9" r="5.0"/>
<circle cx="682.7" cy="1036.4" r="5.0"/>
<circle cx="684" cy="952.1" r="5.0"/>
<circle cx="684" cy="1038.4" r="5.0"/>
<circle cx="686.8" cy="952.4" r="5.0"/>
<circle cx="686.8" cy="1042.2" r="5.0"/>
<circle cx="690.3" cy="952.8" r="5.0"/>
<circle cx="690.3" cy="1047.2" r="5.0"/>
<circle cx="696.6" cy="953.4" r="5.0"/>
<circle cx="696.6" cy="1056.3" r="5.0"/>
<circle cx="697.3" cy="953.5" r="5.0"/>
<circle cx="697.3" cy="1057.3" r="5.0"/>
<circle cx="703.6" cy="953.9" r="5.0"/>
<circle cx="703.6" cy="1066.8" r="5.0"/>
<circle cx="704.3" cy="953.9" r="5.0"/>
<circle cx="704.3" cy="1067.9" r="5.0"/>
<circle cx="715.4" cy="954.1" r="5.0"/>
<circle cx="715.4" cy="1085.4" r="5.0"/>
</g>
<rect x="102.9" y="733.7" width="635.9" height="555.3" fill="none" stroke="#000" stroke-width="1.4"/>
<path d="M88.9 804.3H102.9 M88.9 890.9H102.9 M88.9 977.5H102.9 M88.9 1064.1H102.9 M88.9 1150.7H102.9 M88.9 1237.3H102.9 M133.8 1289V1303 M273.3 1289V1303 M412.8 1289V1303 M552.2 1289V1303 M691.7 1289V1303" stroke="#000" stroke-width="1.4" fill="none"/>
<text class="ts" transform="translate(71.6 804.3) rotate(-90) scale(0.8 1)" text-anchor="middle">450</text>
<text class="ts" transform="translate(71.6 890.9) rotate(-90) scale(0.8 1)" text-anchor="middle">400</text>
<text class="ts" transform="translate(71.6 977.5) rotate(-90) scale(0.8 1)" text-anchor="middle">350</text>
<text class="ts" transform="translate(71.6 1064.1) rotate(-90) scale(0.8 1)" text-anchor="middle">300</text>
<text class="ts" transform="translate(71.6 1150.7) rotate(-90) scale(0.8 1)" text-anchor="middle">250</text>
<text class="ts" transform="translate(71.6 1237.3) rotate(-90) scale(0.8 1)" text-anchor="middle">200</text>
<text class="tn" transform="translate(133.8 1337.8) scale(0.85 1)" text-anchor="middle">0</text>
<text class="tn" transform="translate(273.3 1337.8) scale(0.85 1)" text-anchor="middle">2</text>
<text class="tn" transform="translate(412.8 1337.8) scale(0.85 1)" text-anchor="middle">4</text>
<text class="tn" transform="translate(552.2 1337.8) scale(0.85 1)" text-anchor="middle">6</text>
<text class="tn" transform="translate(691.7 1337.8) scale(0.85 1)" text-anchor="middle">8</text>
<text class="ti" x="198" y="1372.6" textLength="449.1" lengthAdjust="spacingAndGlyphs">Log coffee consumption (g/day)</text>
<text class="ti" transform="translate(31.1 1133.5) rotate(-90)" textLength="193.5" lengthAdjust="spacingAndGlyphs">SUA (μmol/L)</text>
<text class="lt" x="5.6" y="730.6">C</text>
<g fill="#e0261f">
<circle cx="932.7" cy="1022" r="4.0"/>
<circle cx="989.1" cy="1021.4" r="4.0"/>
<circle cx="1010.3" cy="1021.1" r="4.0"/>
<circle cx="1028.5" cy="1020.7" r="4.0"/>
<circle cx="1039.4" cy="1020.6" r="4.0"/>
<circle cx="1049.9" cy="1020.4" r="4.0"/>
<circle cx="1067.7" cy="1019.9" r="4.0"/>
<circle cx="1072.9" cy="1019.9" r="4.0"/>
<circle cx="1084.4" cy="1019.7" r="4.0"/>
<circle cx="1107.4" cy="1019" r="4.0"/>
<circle cx="1130.1" cy="1017.7" r="4.0"/>
<circle cx="1158.9" cy="1014.6" r="4.0"/>
<circle cx="1160.8" cy="1014.3" r="4.0"/>
<circle cx="1170.3" cy="1013.1" r="4.0"/>
<circle cx="1209.1" cy="1006" r="4.0"/>
<circle cx="1505.3" cy="1023.6" r="4.0"/>
<circle cx="1222.2" cy="1002.6" r="4.0"/>
<circle cx="1226.2" cy="1001.5" r="4.0"/>
<circle cx="1229" cy="1000.6" r="4.0"/>
<circle cx="1232.4" cy="999.6" r="4.0"/>
<circle cx="1235.8" cy="998.5" r="4.0"/>
<circle cx="1238.1" cy="997.8" r="4.0"/>
<circle cx="1241.5" cy="996.6" r="4.0"/>
<circle cx="1244.9" cy="995.5" r="4.0"/>
<circle cx="1248.9" cy="994.2" r="4.0"/>
<circle cx="1252.3" cy="993" r="4.0"/>
<circle cx="1255.2" cy="992" r="4.0"/>
<circle cx="1258.6" cy="990.9" r="4.0"/>
<circle cx="1262" cy="989.7" r="4.0"/>
<circle cx="1264.8" cy="988.7" r="4.0"/>
<circle cx="1267.7" cy="987.7" r="4.0"/>
<circle cx="1463.2" cy="1008.8" r="4.0"/>
<circle cx="1466.1" cy="1010" r="4.0"/>
<circle cx="1468.9" cy="1011.2" r="4.0"/>
<circle cx="1471.2" cy="1012.2" r="4.0"/>
<circle cx="1473.5" cy="1013.1" r="4.0"/>
<circle cx="1475.7" cy="1014" r="4.0"/>
<circle cx="1478" cy="1014.9" r="4.0"/>
<circle cx="1480.3" cy="1015.8" r="4.0"/>
<circle cx="1483.1" cy="1016.9" r="4.0"/>
<circle cx="1486" cy="1017.9" r="4.0"/>
<circle cx="1490" cy="1019.2" r="4.0"/>
</g>
<path d="M1267.7 987.7 L1269.7 987 L1271.7 986.3 L1273.7 985.6 L1275.7 985 L1277.8 984.3 L1279.8 983.6 L1281.8 983 L1283.8 982.3 L1285.8 981.7 L1287.8 981 L1289.9 980.4 L1291.9 979.8 L1293.9 979.2 L1295.9 978.6 L1297.9 978 L1299.9 977.4 L1302 976.9 L1304 976.3 L1306 975.8 L1308 975.3 L1310 974.8 L1312 974.3 L1314 973.9 L1316.1 973.4 L1318.1 973 L1320.1 972.6 L1322.1 972.2 L1324.1 971.9 L1326.1 971.5 L1328.2 971.2 L1330.2 970.9 L1332.2 970.7 L1334.2 970.4 L1336.2 970.2 L1338.2 970 L1340.3 969.9 L1342.3 969.7 L1344.3 969.6 L1346.3 969.6 L1348.3 969.5 L1350.3 969.5 L1352.4 969.5 L1354.4 969.6 L1356.4 969.7 L1358.4 969.8 L1360.4 969.9 L1362.4 970.1 L1364.5 970.3 L1366.5 970.6 L1368.5 970.9 L1370.5 971.2 L1372.5 971.6 L1374.5 972 L1376.5 972.4 L1378.6 972.9 L1380.6 973.4 L1382.6 974 L1384.6 974.5 L1386.6 975.1 L1388.6 975.8 L1390.7 976.4 L1392.7 977.1 L1394.7 977.8 L1396.7 978.6 L1398.7 979.3 L1400.7 980.1 L1402.8 980.9 L1404.8 981.7 L1406.8 982.6 L1408.8 983.4 L1410.8 984.3 L1412.8 985.2 L1414.9 986.1 L1416.9 987 L1418.9 987.9 L1420.9 988.8 L1422.9 989.8 L1424.9 990.7 L1427 991.7 L1429 992.6 L1431 993.6 L1433 994.6 L1435 995.6 L1437 996.5 L1439 997.5 L1441.1 998.5 L1443.1 999.4 L1445.1 1000.4 L1447.1 1001.4 L1449.1 1002.3 L1451.1 1003.3 L1453.2 1004.2 L1455.2 1005.1 L1457.2 1006.1 L1459.2 1007 L1461.2 1007.9 L1463.2 1008.8" fill="none" stroke="#e0261f" stroke-width="8.0" stroke-linecap="butt" stroke-linejoin="round"/>
<path d="M1267.7 970.8 L1269.7 970.7 L1271.7 970.6 L1273.7 970.4 L1275.7 970.3 L1277.8 970.1 L1279.8 970 L1281.8 969.8 L1283.8 969.6 L1285.8 969.5 L1287.8 969.3 L1289.9 969.2 L1291.9 969 L1293.9 968.8 L1295.9 968.7 L1297.9 968.5 L1299.9 968.3 L1302 968.2 L1304 968 L1306 967.9 L1308 967.7 L1310 967.5 L1312 967.4 L1314 967.3 L1316.1 967.1 L1318.1 967 L1320.1 966.9 L1322.1 966.7 L1324.1 966.6 L1326.1 966.5 L1328.2 966.4 L1330.2 966.3 L1332.2 966.2 L1334.2 966.1 L1336.2 966.1 L1338.2 966 L1340.3 965.9 L1342.3 965.9 L1344.3 965.9 L1346.3 965.8 L1348.3 965.8 L1350.3 965.8 L1352.4 965.8 L1354.4 965.9 L1356.4 965.9 L1358.4 966 L1360.4 966 L1362.4 966.1 L1364.5 966.2 L1366.5 966.3 L1368.5 966.4 L1370.5 966.6 L1372.5 966.7 L1374.5 966.9 L1376.5 967.1 L1378.6 967.3 L1380.6 967.5 L1382.6 967.7 L1384.6 967.9 L1386.6 968.2 L1388.6 968.4 L1390.7 968.6 L1392.7 968.9 L1394.7 969.2 L1396.7 969.4 L1398.7 969.7 L1400.7 969.9 L1402.8 970.2 L1404.8 970.4 L1406.8 970.7 L1408.8 970.9 L1410.8 971.2 L1412.8 971.4 L1414.9 971.6 L1416.9 971.8 L1418.9 972 L1420.9 972.2 L1422.9 972.4 L1424.9 972.6 L1427 972.7 L1429 972.9 L1431 973 L1433 973.1 L1435 973.2 L1437 973.2 L1439 973.2 L1441.1 973.3 L1443.1 973.2 L1445.1 973.2 L1447.1 973.1 L1449.1 973 L1451.1 972.9 L1453.2 972.8 L1455.2 972.6 L1457.2 972.4 L1459.2 972.2 L1461.2 971.9 L1463.2 971.6" fill="none" stroke="#2d55a9" stroke-width="11.8" stroke-linecap="butt" stroke-linejoin="round"/>
<path d="M1267.7 1005.2 L1269.7 1003.9 L1271.7 1002.6 L1273.7 1001.3 L1275.7 1000.1 L1277.8 998.8 L1279.8 997.6 L1281.8 996.4 L1283.8 995.3 L1285.8 994.1 L1287.8 993 L1289.9 991.9 L1291.9 990.9 L1293.9 989.9 L1295.9 988.9 L1297.9 987.9 L1299.9 987 L1302 986.1 L1304 985.3 L1306 984.4 L1308 983.6 L1310 982.9 L1312 982.1 L1314 981.4 L1316.1 980.8 L1318.1 980.1 L1320.1 979.5 L1322.1 979 L1324.1 978.4 L1326.1 978 L1328.2 977.5 L1330.2 977.1 L1332.2 976.7 L1334.2 976.4 L1336.2 976.1 L1338.2 975.8 L1340.3 975.6 L1342.3 975.4 L1344.3 975.2 L1346.3 975.1 L1348.3 975.1 L1350.3 975 L1352.4 975.1 L1354.4 975.1 L1356.4 975.2 L1358.4 975.4 L1360.4 975.5 L1362.4 975.8 L1364.5 976 L1366.5 976.4 L1368.5 976.7 L1370.5 977.1 L1372.5 977.6 L1374.5 978.1 L1376.5 978.6 L1378.6 979.2 L1380.6 979.8 L1382.6 980.5 L1384.6 981.2 L1386.6 981.9 L1388.6 982.7 L1390.7 983.5 L1392.7 984.3 L1394.7 985.2 L1396.7 986.1 L1398.7 987 L1400.7 988 L1402.8 988.9 L1404.8 989.9 L1406.8 991 L1408.8 992 L1410.8 993.1 L1412.8 994.2 L1414.9 995.3 L1416.9 996.5 L1418.9 997.7 L1420.9 998.9 L1422.9 1000.1 L1424.9 1001.4 L1427 1002.7 L1429 1004.1 L1431 1005.5 L1433 1007 L1435 1008.5 L1437 1010.1 L1439 1011.7 L1441.1 1013.4 L1443.1 1015.2 L1445.1 1017.1 L1447.1 1019 L1449.1 1021 L1451.1 1023.1 L1453.2 1025.2 L1455.2 1027.4 L1457.2 1029.7 L1459.2 1032 L1461.2 1034.3 L1463.2 1036.7" fill="none" stroke="#2d55a9" stroke-width="11.8" stroke-linecap="butt" stroke-linejoin="round"/>
<g fill="none" stroke="#2a2a93" stroke-width="1.8">
<circle cx="932.7" cy="822.1" r="5.0"/>
<circle cx="932.7" cy="1221.8" r="5.0"/>
<circle cx="989.1" cy="873.7" r="5.0"/>
<circle cx="989.1" cy="1169.1" r="5.0"/>
<circle cx="1010.3" cy="889.8" r="5.0"/>
<circle cx="1010.3" cy="1152.4" r="5.0"/>
<circle cx="1028.5" cy="902" r="5.0"/>
<circle cx="1028.5" cy="1139.4" r="5.0"/>
<circle cx="1039.4" cy="908.4" r="5.0"/>
<circle cx="1039.4" cy="1132.8" r="5.0"/>
<circle cx="1049.9" cy="914.4" r="5.0"/>
<circle cx="1049.9" cy="1126.4" r="5.0"/>
<circle cx="1067.7" cy="924.5" r="5.0"/>
<circle cx="1067.7" cy="1115.3" r="5.0"/>
<circle cx="1072.9" cy="927.1" r="5.0"/>
<circle cx="1072.9" cy="1112.7" r="5.0"/>
<circle cx="1084.4" cy="932.1" r="5.0"/>
<circle cx="1084.4" cy="1107.3" r="5.0"/>
<circle cx="1107.4" cy="942" r="5.0"/>
<circle cx="1107.4" cy="1096" r="5.0"/>
<circle cx="1130.1" cy="950.3" r="5.0"/>
<circle cx="1130.1" cy="1085.1" r="5.0"/>
<circle cx="1158.9" cy="958.9" r="5.0"/>
<circle cx="1158.9" cy="1070.3" r="5.0"/>
<circle cx="1160.8" cy="959.8" r="5.0"/>
<circle cx="1160.8" cy="1068.8" r="5.0"/>
<circle cx="1170.3" cy="961.8" r="5.0"/>
<circle cx="1170.3" cy="1064.4" r="5.0"/>
</g>
<g fill="none" stroke="#2a2a93" stroke-width="2.2">
<circle cx="1209.1" cy="970.6" r="5.0"/>
<circle cx="1209.1" cy="1040.7" r="5.0"/>
<circle cx="1505.3" cy="958.4" r="5.0"/>
<circle cx="1505.3" cy="1089.8" r="5.0"/>
</g>
<g fill="none" stroke="#2d55a9" stroke-width="2.0">
<circle cx="1222.2" cy="971.6" r="5.0"/>
<circle cx="1222.2" cy="1034.6" r="5.0"/>
<circle cx="1226.2" cy="971.8" r="5.0"/>
<circle cx="1226.2" cy="1032.4" r="5.0"/>
<circle cx="1229" cy="971.9" r="5.0"/>
<circle cx="1229" cy="1030.7" r="5.0"/>
<circle cx="1232.4" cy="971.9" r="5.0"/>
<circle cx="1232.4" cy="1028.7" r="5.0"/>
<circle cx="1235.8" cy="972" r="5.0"/>
<circle cx="1235.8" cy="1026.5" r="5.0"/>
<circle cx="1238.1" cy="972" r="5.0"/>
<circle cx="1238.1" cy="1025.1" r="5.0"/>
<circle cx="1241.5" cy="971.9" r="5.0"/>
<circle cx="1241.5" cy="1022.9" r="5.0"/>
<circle cx="1244.9" cy="971.9" r="5.0"/>
<circle cx="1244.9" cy="1020.6" r="5.0"/>
<circle cx="1248.9" cy="971.8" r="5.0"/>
<circle cx="1248.9" cy="1017.9" r="5.0"/>
<circle cx="1252.3" cy="971.6" r="5.0"/>
<circle cx="1252.3" cy="1015.6" r="5.0"/>
<circle cx="1255.2" cy="971.5" r="5.0"/>
<circle cx="1255.2" cy="1013.7" r="5.0"/>
<circle cx="1258.6" cy="971.4" r="5.0"/>
<circle cx="1258.6" cy="1011.3" r="5.0"/>
<circle cx="1262" cy="971.2" r="5.0"/>
<circle cx="1262" cy="1009" r="5.0"/>
<circle cx="1264.8" cy="971" r="5.0"/>
<circle cx="1264.8" cy="1007.1" r="5.0"/>
<circle cx="1267.7" cy="970.8" r="5.0"/>
<circle cx="1267.7" cy="1005.2" r="5.0"/>
<circle cx="1463.2" cy="971.6" r="5.0"/>
<circle cx="1463.2" cy="1036.7" r="5.0"/>
<circle cx="1466.1" cy="971.2" r="5.0"/>
<circle cx="1466.1" cy="1040.2" r="5.0"/>
<circle cx="1468.9" cy="970.7" r="5.0"/>
<circle cx="1468.9" cy="1043.7" r="5.0"/>
<circle cx="1471.2" cy="970.2" r="5.0"/>
<circle cx="1471.2" cy="1046.5" r="5.0"/>
<circle cx="1473.5" cy="969.7" r="5.0"/>
<circle cx="1473.5" cy="1049.4" r="5.0"/>
<circle cx="1475.7" cy="969.2" r="5.0"/>
<circle cx="1475.7" cy="1052.3" r="5.0"/>
<circle cx="1478" cy="968.6" r="5.0"/>
<circle cx="1478" cy="1055.2" r="5.0"/>
<circle cx="1480.3" cy="968" r="5.0"/>
<circle cx="1480.3" cy="1058.2" r="5.0"/>
<circle cx="1483.1" cy="967.2" r="5.0"/>
<circle cx="1483.1" cy="1061.9" r="5.0"/>
<circle cx="1486" cy="966.3" r="5.0"/>
<circle cx="1486" cy="1065.5" r="5.0"/>
<circle cx="1490" cy="964.9" r="5.0"/>
<circle cx="1490" cy="1070.7" r="5.0"/>
</g>
<rect x="910.5" y="742.6" width="617.5" height="539.4" fill="none" stroke="#000" stroke-width="1.4"/>
<path d="M896.5 856.4H910.5 M896.5 998.5H910.5 M896.5 1140.5H910.5 M1016.4 1282V1296 M1130.1 1282V1296 M1243.8 1282V1296 M1357.5 1282V1296 M1471.2 1282V1296" stroke="#000" stroke-width="1.4" fill="none"/>
<text class="tny" transform="translate(879.3 856.4) rotate(-90) scale(0.86 1)" text-anchor="middle">400</text>
<text class="tny" transform="translate(879.3 998.5) rotate(-90) scale(0.86 1)" text-anchor="middle">350</text>
<text class="tny" transform="translate(879.3 1140.5) rotate(-90) scale(0.86 1)" text-anchor="middle">300</text>
<text class="tn" transform="translate(1016.4 1329) scale(0.85 1)" text-anchor="middle">0</text>
<text class="tn" transform="translate(1130.1 1329) scale(0.85 1)" text-anchor="middle">2</text>
<text class="tn" transform="translate(1243.8 1329) scale(0.85 1)" text-anchor="middle">4</text>
<text class="tn" transform="translate(1357.5 1329) scale(0.85 1)" text-anchor="middle">6</text>
<text class="tn" transform="translate(1471.2 1329) scale(0.85 1)" text-anchor="middle">8</text>
<text class="ti" x="1017.6" y="1374.9" textLength="448.2" lengthAdjust="spacingAndGlyphs">Log coffee consumption (g/day)</text>
<text class="ti" transform="translate(840.4 1133.9) rotate(-90)" textLength="193.5" lengthAdjust="spacingAndGlyphs">SUA (μmol/L)</text>
<text class="lt" x="808.3" y="730.6">D</text>
<circle cx="1294.3" cy="675.1" r="0.9" fill="#999"/>
</svg></body></html>
